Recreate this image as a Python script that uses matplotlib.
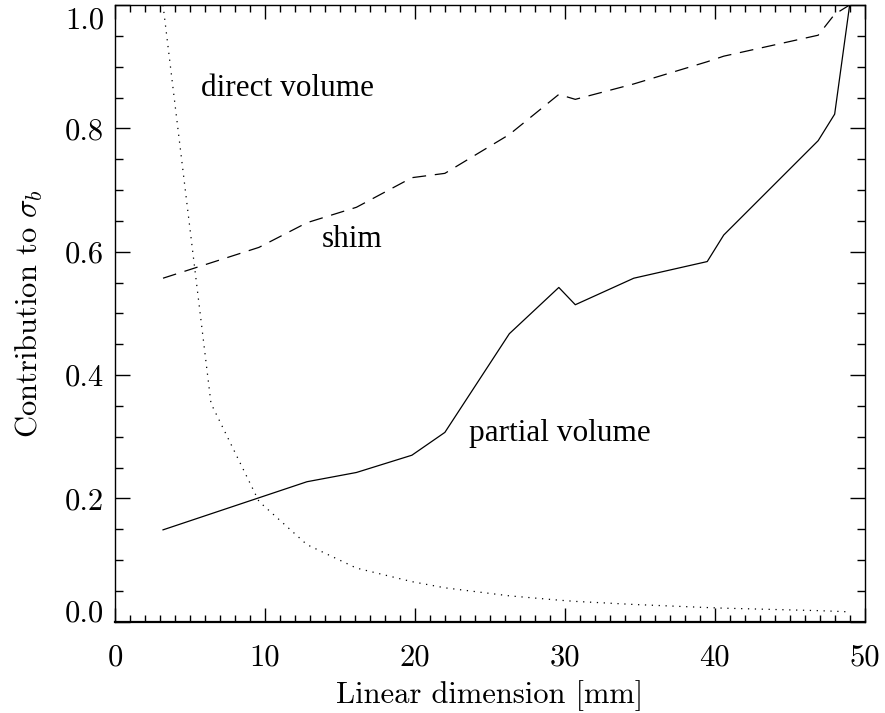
import matplotlib
matplotlib.use("Agg")
import matplotlib.pyplot as plt
from matplotlib.ticker import MultipleLocator, FixedLocator, FixedFormatter
from matplotlib.transforms import ScaledTranslation

plt.rcParams['font.family'] = 'serif'
plt.rcParams['font.serif'] = ['cmr10', 'DejaVu Serif']
plt.rcParams['mathtext.fontset'] = 'cm'
plt.rcParams['axes.unicode_minus'] = False

# Data
x_mm = [3.2, 6.4, 9.6, 12.8, 16.1, 19.8, 22.0, 26.3, 29.6, 30.7, 34.6, 39.5, 40.6, 46.9, 48.0, 49.0]
partial_volume = [0.149, 0.175, 0.201, 0.227, 0.242, 0.270, 0.307, 0.467, 0.542, 0.514, 0.557, 0.584, 0.627, 0.780, 0.823, 1.0]
shim = [0.557, 0.582, 0.607, 0.647, 0.672, 0.720, 0.727, 0.790, 0.855, 0.847, 0.872, 0.908, 0.917, 0.951, 0.985, 1.0]
direct_volume = [1.0, 0.354, 0.195, 0.125, 0.087, 0.065, 0.055, 0.042, 0.035, 0.033, 0.028, 0.023, 0.022, 0.018, 0.017, 0.016]

xticks = [0, 10, 20, 30, 40, 50]
xtick_labels = ['0', '10', '20', '30', '40', '50']
yticks = [0.0, 0.2, 0.4, 0.6, 0.8, 1.0]
ytick_labels = ['0.0', '0.2', '0.4', '0.6', '0.8', '1.0']

fig = plt.figure(figsize=(8.85, 7.13), dpi=100)
ax = fig.add_axes([0.130, 0.128, 0.847, 0.865])

lw = 0.9
ax.plot(x_mm, partial_volume, color='black', lw=lw, linestyle='-')
ax.plot(x_mm, shim, color='black', lw=lw, linestyle=(0, (11, 7)))
ax.plot(x_mm, direct_volume, color='black', lw=lw, linestyle=(0, (1, 4.5)))

ax.set_xlim(0, 50)
ax.set_ylim(0, 1.0)

ax.xaxis.set_major_locator(FixedLocator(xticks))
ax.xaxis.set_major_formatter(FixedFormatter(xtick_labels))
ax.xaxis.set_minor_locator(MultipleLocator(1))
ax.yaxis.set_major_locator(FixedLocator(yticks))
ax.yaxis.set_major_formatter(FixedFormatter(ytick_labels))
ax.yaxis.set_minor_locator(MultipleLocator(0.05))

ax.tick_params(axis='both', which='both', direction='in', top=True, right=True,
               color='black', labelsize=22)
ax.tick_params(axis='y', which='major', length=11, width=1.0, pad=8)
ax.tick_params(axis='y', which='minor', length=5.5, width=1.0)
ax.tick_params(axis='x', which='major', length=10, width=1.0, pad=16)
ax.tick_params(axis='x', which='minor', length=5, width=1.0)

for s in ax.spines.values():
    s.set_linewidth(1.0)
ax.spines['bottom'].set_linewidth(1.6)

ax.set_xlabel('Linear dimension [mm]', fontsize=22, labelpad=6)
ax.set_ylabel(r'Contribution to $\sigma_b$', fontsize=22, labelpad=14)

tfont = dict(family=['Liberation Serif', 'DejaVu Serif'], fontsize=22.5, color='black')
ax.text(11.5, 0.865, 'direct volume', ha='center', va='center', **tfont)
ax.text(15.8, 0.619, 'shim', ha='center', va='center', **tfont)
ax.text(29.7, 0.306, 'partial volume', ha='center', va='center', **tfont)

fig.canvas.draw()
yt = ax.yaxis.get_major_ticks()
for t in yt:
    t.label1.set_va('center_baseline')
yt[0].label1.set_va('baseline')
yt[-1].label1.set_va('top')
yt[-1].label1.set_transform(yt[-1].label1.get_transform()
                            + ScaledTranslation(0, -1.5 / 72, fig.dpi_scale_trans))

fig.savefig('out.png', dpi=100)
